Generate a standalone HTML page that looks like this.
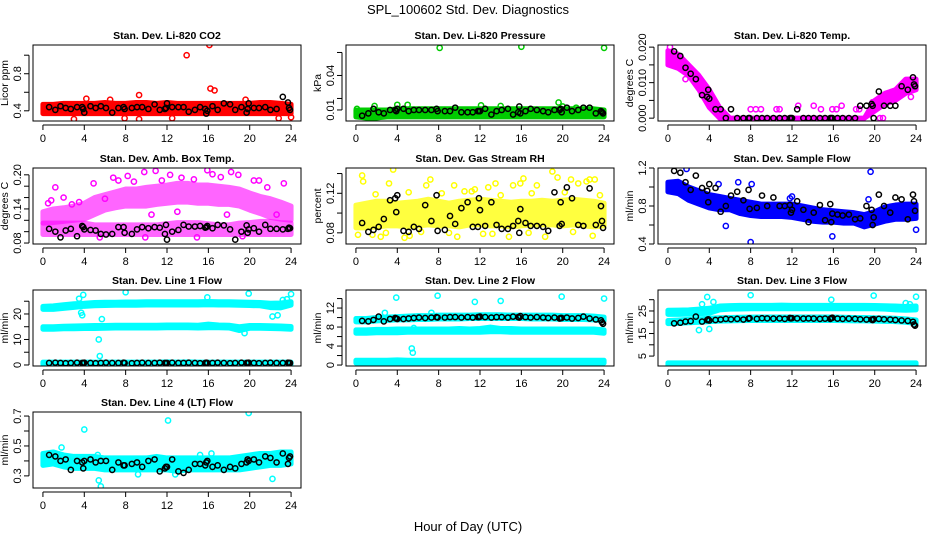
<!DOCTYPE html>
<html><head><meta charset="utf-8"><style>
html,body{margin:0;padding:0;background:#fff;}
svg{display:block;font-family:"Liberation Sans",Arial,sans-serif;}
</style></head><body>
<svg id="fig" width="936" height="540" viewBox="0 0 936 540">
<text x="468" y="14" text-anchor="middle" font-size="13">SPL_100602  Std. Dev. Diagnostics</text>
<text x="468" y="531" text-anchor="middle" font-size="13">Hour of Day (UTC)</text>
</svg>
<script>
const HOURS=[0,1,2,3,4,5,6,7,8,9,10,11,12,13,14,15,16,17,18,19,20,21,22,23,24];
const XTICKS=[0,4,8,12,16,20,24];
const hourX=[0.6,1.2,1.7,2.2,2.7,3.3,3.8,3.9,4.0,4.6,5.1,5.6,6.1,6.7,7.3,7.8,7.9,8.6,9.1,9.6,10.2,10.8,11.3,11.8,11.9,12.0,12.5,13.1,13.6,14.1,14.7,15.2,15.7,15.8,15.9,16.4,16.9,17.5,18.1,18.6,19.2,19.7,19.8,19.9,20.4,20.9,21.5,22.0,22.6,23.2,23.7,23.8,23.9];

// P1 CO2
const co2Lo=[0.37,0.37,0.37,0.37,0.37,0.37,0.37,0.37,0.37,0.37,0.37,0.37,0.37,0.37,0.37,0.37,0.37,0.37,0.37,0.37,0.37,0.37,0.37,0.37,0.37];
const co2Hi=[0.47,0.47,0.48,0.48,0.48,0.48,0.49,0.48,0.48,0.49,0.49,0.48,0.49,0.48,0.48,0.48,0.48,0.48,0.48,0.48,0.48,0.49,0.49,0.48,0.47];
const co2OutX=[13.9,16.1,16.2,16.6,9.3,4.2,3.0,7.9,9.3,12.5,22.8,24.0,6.5,19.6];
const co2OutY=[1.0,1.11,0.64,0.62,0.57,0.53,0.31,0.32,0.31,0.32,0.32,0.33,0.52,0.52];
const co2Blk=[0.44,0.41,0.45,0.43,0.42,0.44,0.44,0.42,0.38,0.45,0.43,0.45,0.43,0.38,0.43,0.44,0.42,0.43,0.44,0.44,0.42,0.47,0.41,0.42,0.43,0.48,0.44,0.44,0.44,0.39,0.41,0.44,0.42,0.37,0.40,0.45,0.41,0.48,0.47,0.41,0.44,0.38,0.42,0.48,0.43,0.43,0.44,0.41,0.42,0.55,0.49,0.43,0.41];
const co2Ticks=[0.4,0.6,0.8,1.0];const co2Labels=["0.4","","0.8",""];

// P2 Pressure
const prLo=[0.004,0.003,0.003,0.004,0.004,0.004,0.004,0.004,0.004,0.004,0.004,0.004,0.004,0.004,0.004,0.004,0.004,0.004,0.004,0.004,0.004,0.004,0.004,0.004,0.004];
const prHi=[0.010,0.010,0.010,0.010,0.011,0.011,0.011,0.011,0.011,0.011,0.011,0.011,0.011,0.011,0.011,0.011,0.011,0.011,0.011,0.011,0.011,0.011,0.011,0.011,0.010];
const prOutX=[8.1,16.0,24.0,19.6,1.8,4.0,5.0,12.1,14.0,0.1,20.0,21.3];
const prOutY=[0.064,0.065,0.064,0.0165,0.0135,0.0145,0.0145,0.014,0.0135,0.011,0.013,0.012];
const prBlk=[0.005,0.007,0.011,0.008,0.007,0.010,0.010,0.009,0.011,0.011,0.009,0.010,0.010,0.010,0.010,0.011,0.009,0.009,0.009,0.012,0.008,0.008,0.008,0.009,0.009,0.009,0.011,0.006,0.009,0.010,0.011,0.006,0.008,0.013,0.007,0.009,0.011,0.010,0.009,0.008,0.010,0.010,0.011,0.008,0.012,0.009,0.010,0.012,0.012,0.007,0.009,0.008,0.007];
const prTicks=[0.01,0.02,0.04,0.06];const prLabels=["0.01","","0.04",""];

// P3 Li-820 Temp
const tmLo=[0.015,0.014,0.012,0.008,0.003,0.0,0.0,0.0,0.0,0.0,0.0,0.0,0.0,0.0,0.0,0.0,0.0,0.0,0.0,0.0,0.002,0.004,0.005,0.007,0.008];
const tmHi=[0.019,0.018,0.015,0.012,0.008,0.003,0.0,0.0,0.0,0.0,0.0,0.0,0.0,0.0,0.0,0.0,0.0,0.0,0.0,0.0,0.005,0.007,0.008,0.011,0.011];
const tmOutX=[0.2,1.7,2.9,4.5,5.0,8.0,8.5,9.0,10.5,10.8,12.6,14.1,14.8,15.9,16.3,16.8,18.2,18.5,19.8,20.5,20.8,23.5];
const tmOutY=[0.020,0.011,0.009,0.0025,0.0025,0.0025,0.0025,0.0025,0.0025,0.0025,0.0035,0.0035,0.0025,0.0025,0.0025,0.0035,0.0025,0.0025,0.0045,0.0,0.0,0.006];
const tmBlk=[0.0188,0.0175,0.0142,0.0125,0.011,0.0065,0.006,0.008,0.0055,0.0025,0.0025,0,0.0025,0,0,0,0,0,0,0,0,0,0,0,0,0,0.0025,0,0,0,0,0,0,0,0,0,0,0,0,0.0035,0.0035,0.004,0.0035,0,0.0075,0.0035,0.0035,0.0035,0.009,0.008,0.0115,0.0095,0.009];
const tmTicks=[0,0.005,0.010,0.015,0.020];const tmLabels=["0.000","","0.010","","0.020"];

// P4 Amb Box Temp
const abLoA=[0.095,0.095,0.095,0.095,0.095,0.095,0.095,0.095,0.095,0.095,0.095,0.095,0.095,0.095,0.095,0.095,0.095,0.095,0.095,0.095,0.095,0.095,0.095,0.095,0.095];
const abHiA=[0.115,0.115,0.115,0.115,0.115,0.112,0.112,0.112,0.112,0.112,0.112,0.112,0.114,0.116,0.116,0.116,0.114,0.112,0.112,0.115,0.116,0.118,0.118,0.116,0.115];
const abLoB=[0.115,0.116,0.118,0.12,0.122,0.13,0.138,0.142,0.145,0.145,0.145,0.148,0.15,0.152,0.152,0.15,0.15,0.148,0.148,0.145,0.138,0.132,0.125,0.122,0.12];
const abHiB=[0.135,0.14,0.142,0.145,0.15,0.16,0.165,0.17,0.175,0.175,0.178,0.18,0.182,0.185,0.185,0.182,0.182,0.18,0.178,0.175,0.168,0.162,0.158,0.152,0.145];
const abOutX=[1.2,4.9,6.8,8.2,9.8,10.9,12.3,15.9,16.4,18.2,18.9,20.4,20.9,23.3,0.5,2.8,5.5,9.9,14.9,19.3,7.3,8.8,11.5,13.4,14.6,17.2,21.7,0.8,2.0,3.5,6.0,10.5,13.0,17.8,22.6];
const abOutY=[0.178,0.185,0.195,0.198,0.205,0.207,0.2,0.208,0.201,0.205,0.2,0.19,0.19,0.185,0.15,0.148,0.09,0.09,0.09,0.092,0.19,0.188,0.19,0.195,0.192,0.196,0.178,0.155,0.16,0.152,0.158,0.13,0.135,0.13,0.13];
const abBlk=[0.105,0.100,0.090,0.102,0.105,0.092,0.110,0.108,0.104,0.103,0.102,0.096,0.095,0.096,0.108,0.108,0.098,0.096,0.104,0.108,0.106,0.108,0.107,0.096,0.112,0.086,0.100,0.103,0.112,0.109,0.109,0.110,0.107,0.108,0.110,0.106,0.112,0.111,0.104,0.086,0.100,0.111,0.098,0.104,0.106,0.100,0.112,0.105,0.105,0.104,0.105,0.107,0.106];
const abTicks=[0.08,0.10,0.12,0.14,0.16,0.18,0.20];const abLabels=["0.08","","","0.14","","","0.20"];

// P5 Gas Stream RH
const rhLo=[0.085,0.085,0.086,0.087,0.087,0.086,0.087,0.088,0.087,0.087,0.086,0.088,0.088,0.087,0.087,0.086,0.087,0.088,0.088,0.088,0.087,0.088,0.087,0.086,0.087];
const rhHi=[0.108,0.110,0.112,0.112,0.110,0.111,0.112,0.114,0.112,0.110,0.112,0.113,0.114,0.113,0.112,0.111,0.112,0.112,0.113,0.112,0.113,0.114,0.113,0.112,0.110];
const rhOutX=[0.6,0.7,3.6,3.2,6.8,7.2,9.5,10.5,11.5,12.8,13.5,15.2,15.9,16.2,17.5,19.0,19.5,20.8,21.5,22.3,22.6,23.1,0.2,1.6,2.4,4.7,5.2,9.8,12.3,14.8,18.3,22.9,1.9,5.1,8.3,11.2,14.0,17.0,20.2,23.6,2.9,6.3,9.0,13.2,16.7,21.0];
const rhOutY=[0.138,0.132,0.144,0.13,0.128,0.134,0.128,0.122,0.124,0.126,0.13,0.128,0.13,0.135,0.128,0.142,0.136,0.134,0.13,0.132,0.134,0.134,0.078,0.078,0.076,0.075,0.077,0.076,0.079,0.076,0.076,0.077,0.119,0.121,0.12,0.122,0.118,0.12,0.121,0.118,0.08,0.081,0.08,0.079,0.08,0.081];
const rhBlk=[0.090,0.081,0.083,0.086,0.094,0.113,0.115,0.101,0.118,0.082,0.081,0.086,0.084,0.108,0.092,0.118,0.082,0.083,0.097,0.089,0.105,0.111,0.086,0.086,0.115,0.103,0.087,0.111,0.088,0.084,0.084,0.087,0.092,0.080,0.104,0.090,0.087,0.087,0.086,0.082,0.121,0.087,0.111,0.089,0.126,0.115,0.088,0.087,0.125,0.088,0.107,0.092,0.085];
const rhTicks=[0.08,0.10,0.12,0.14];const rhLabels=["0.08","","0.12",""];

// P6 Sample Flow
const sfLo=[0.95,0.93,0.86,0.82,0.78,0.76,0.76,0.72,0.70,0.69,0.69,0.69,0.68,0.66,0.64,0.63,0.63,0.62,0.62,0.58,0.61,0.64,0.66,0.66,0.67];
const sfHi=[1.05,1.06,1.00,0.96,0.92,0.90,0.88,0.86,0.84,0.82,0.82,0.82,0.82,0.80,0.78,0.76,0.75,0.74,0.73,0.71,0.74,0.79,0.81,0.82,0.82];
const sfOutX=[1.8,4.9,6.8,8.1,19.6,8.0,5.6,15.9,24.0,12.0,11.8,19.4];
const sfOutY=[1.19,1.03,1.05,1.03,1.16,0.42,0.59,0.48,0.55,0.90,0.88,0.87];
const sfBlk=[1.17,1.15,1.05,0.97,1.12,0.99,0.96,0.84,1.03,0.99,0.74,0.80,0.91,0.95,0.86,0.97,0.77,0.78,0.91,0.80,0.89,0.80,0.80,0.81,0.73,0.76,0.85,0.76,0.63,0.73,0.81,0.65,0.82,0.63,0.72,0.71,0.70,0.71,0.66,0.67,0.80,0.76,0.60,0.68,0.92,0.80,0.73,0.89,0.87,0.66,0.92,0.85,0.75];
const sfTicks=[0.4,0.6,0.8,1.0,1.2];const sfLabels=["0.4","","0.8","","1.2"];

// P7 Line 1 Flow
const l1LoA=[21.8,21.8,22.2,22.6,23.0,23.2,23.3,23.4,23.4,23.4,23.5,23.5,23.5,23.5,23.5,23.5,23.6,23.5,23.5,23.4,23.3,23.2,22.5,22.4,23.5];
const l1HiA=[23.0,23.2,23.6,24.0,24.2,24.5,24.6,24.6,24.7,24.7,24.8,24.8,24.8,24.8,24.8,24.8,24.9,24.8,24.8,24.7,24.6,24.5,24.2,24.3,24.8];
const l1LoB=[14.0,14.0,14.2,14.2,14.3,14.3,14.4,14.5,14.5,14.5,14.5,14.5,14.6,14.6,14.6,14.5,14.6,14.6,14.5,13.5,14.4,14.4,14.3,14.2,14.0];
const l1HiB=[15.0,15.0,15.2,15.3,15.4,15.5,15.5,15.6,15.6,15.6,15.6,15.6,15.7,15.7,15.7,15.6,16.0,15.7,15.6,15.0,15.5,15.5,15.4,15.3,15.1];
const l1LoC=[0.3,0.3,0.3,0.3,0.3,0.3,0.3,0.3,0.3,0.3,0.3,0.3,0.3,0.3,0.3,0.3,0.3,0.3,0.3,0.3,0.3,0.3,0.3,0.3,0.3];
const l1HiC=[1.1,1.1,1.1,1.1,1.1,1.1,1.1,1.1,1.1,1.1,1.1,1.1,1.2,1.1,1.2,1.1,1.1,1.1,1.1,1.1,1.1,1.1,1.1,1.1,1.1];
const l1OutX=[3.5,3.9,3.7,3.8,5.4,5.5,5.7,8.0,15.9,19.9,22.2,22.7,23.2,23.6,24.0,19.5];
const l1OutY=[26.0,27.5,20.5,19.5,10.0,3.5,18.0,28.5,26.5,28.0,19.0,19.5,25.5,25.8,27.8,12.5];
const l1Blk=[0.8,0.9,0.8,0.7,0.8,0.9,0.8,0.8,0.9,0.8,0.7,0.8,0.9,0.8,0.8,0.9,0.8,0.7,0.8,0.9,0.8,0.8,0.9,0.8,0.7,0.8,0.9,0.8,0.8,0.9,0.8,0.7,0.8,0.9,0.8,0.8,0.9,0.8,0.7,0.8,0.9,0.8,0.8,0.9,0.8,0.7,0.8,0.9,0.8,0.8,0.9,0.8,0.8];
const l1Ticks=[0,5,10,15,20,25];const l1Labels=["0","","10","","20",""];

// P8 Line 2 Flow
const l2LoA=[9.1,9.1,9.3,9.4,9.5,9.5,9.6,9.6,9.7,9.7,9.7,9.8,9.8,9.8,9.8,9.8,9.8,9.7,9.7,9.7,9.6,9.6,9.6,9.5,9.3];
const l2HiA=[9.8,9.8,10.0,10.1,10.2,10.3,10.4,10.4,10.5,10.5,10.5,10.5,10.6,10.6,10.6,10.5,10.5,10.5,10.5,10.5,10.4,10.4,10.4,10.3,10.1];
const l2LoB=[6.7,6.7,6.8,6.8,6.8,6.9,6.9,6.9,6.9,6.9,6.9,6.9,6.9,7.0,7.0,6.9,6.9,6.9,6.9,6.9,6.9,6.9,6.9,6.9,6.7];
const l2HiB=[7.4,7.4,7.5,7.5,7.6,7.6,7.6,7.6,7.6,7.6,7.7,7.6,7.7,8.0,7.7,7.7,7.6,7.6,7.6,7.6,7.6,7.6,7.6,7.6,7.4];
const l2LoC=[0.4,0.4,0.4,0.4,0.4,0.4,0.4,0.4,0.4,0.4,0.4,0.4,0.4,0.4,0.4,0.4,0.4,0.4,0.4,0.4,0.4,0.4,0.4,0.4,0.4];
const l2HiC=[1.0,1.0,1.0,1.0,1.1,1.0,1.0,1.0,1.0,1.0,1.0,1.0,1.0,1.0,1.0,1.0,1.0,1.0,1.0,1.0,1.0,1.0,1.0,1.0,1.0];
const l2OutX=[3.9,5.4,5.5,5.6,7.9,11.5,14.0,19.9,24.0,2.8,7.3];
const l2OutY=[14.2,3.5,2.6,7.8,14.6,13.3,13.5,14.4,14.0,11.0,11.0];
const l2Blk=[9.3,9.2,9.5,10.2,9.2,9.7,9.9,9.8,9.7,9.7,9.8,9.9,10.0,9.9,10.0,10.1,10.0,10.0,10.1,10.1,10.0,10.1,10.0,10.1,10.1,10.2,10.1,10.0,10.1,10.1,10.0,10.2,10.1,10.0,10.3,10.1,10.0,10.1,10.0,9.9,10.0,9.8,9.9,9.9,10.0,9.8,9.9,10.2,9.8,9.6,9.4,9.0,8.7];
const l2Ticks=[0,2,4,6,8,10,12,14];const l2Labels=["0","","4","","8","","12",""];

// P9 Line 3 Flow
const l3LoA=[23.5,23.5,23.6,23.8,24.0,25.5,25.8,25.9,26.0,26.0,26.0,26.0,26.0,26.0,26.0,26.0,26.0,26.0,26.0,26.0,26.0,25.8,25.5,25.3,25.5];
const l3HiA=[25.3,25.4,25.5,25.8,26.2,27.2,27.4,27.5,27.5,27.5,27.5,27.6,27.5,27.5,27.5,27.5,27.5,27.5,27.5,27.5,27.4,27.3,27.2,27.0,27.2];
const l3LoB=[19.4,19.5,19.8,20.0,20.3,20.5,20.6,20.7,20.8,20.8,20.8,20.8,20.8,20.8,20.8,20.8,20.8,20.7,20.6,20.6,20.5,20.4,20.3,20.0,19.5];
const l3HiB=[20.8,21.0,21.3,21.5,21.8,22.0,22.1,22.2,22.3,22.3,22.3,22.3,22.3,22.3,22.3,22.3,22.3,22.2,22.1,22.1,22.0,21.9,21.8,21.5,21.0];
const l3LoC=[1.0,1.0,1.0,1.0,1.0,1.0,1.0,1.0,1.0,1.0,1.0,1.0,1.0,1.0,1.0,1.0,1.0,1.0,1.0,1.0,1.0,1.0,1.0,1.0,1.0];
const l3HiC=[2.0,2.0,2.0,2.0,2.0,2.0,2.0,2.0,2.0,2.0,2.0,2.0,2.0,2.0,2.0,2.0,2.0,2.0,2.0,2.0,2.0,2.0,2.0,2.0,2.0];
const l3OutX=[3.8,4.0,3.3,3.0,8.0,15.8,19.9,24.0,23.4,23.0,4.4];
const l3OutY=[31.2,17.0,28.0,16.5,32.0,30.0,31.8,31.3,28.0,28.5,29.0];
const l3Blk=[19.5,19.8,20.3,20.5,22.5,20.3,21.0,21.3,20.8,21.0,21.2,21.5,21.3,21.5,21.2,21.6,21.8,21.5,21.8,21.7,21.6,21.7,21.5,21.9,21.7,21.8,21.7,21.6,21.7,21.6,21.5,21.6,21.5,21.8,22.0,21.6,21.5,21.6,21.5,21.3,21.2,21.2,21.0,21.4,21.5,21.3,21.2,21.0,20.8,20.6,20.2,19.0,18.5];
const l3Ticks=[5,10,15,20,25,30];const l3Labels=["5","","15","","25",""];

// P10 Line 4 (LT) Flow
const l4Lo=[0.37,0.38,0.36,0.35,0.35,0.35,0.34,0.34,0.34,0.34,0.34,0.34,0.34,0.33,0.34,0.34,0.34,0.34,0.34,0.34,0.35,0.36,0.37,0.37,0.38];
const l4Hi=[0.45,0.46,0.44,0.43,0.43,0.43,0.42,0.42,0.42,0.42,0.42,0.43,0.42,0.42,0.42,0.42,0.42,0.42,0.42,0.43,0.44,0.45,0.45,0.46,0.46];
const l4OutX=[4.0,12.1,19.9,5.4,5.6,1.8,22.2,16.3,15.2,5.3,9.2,12.8];
const l4OutY=[0.61,0.67,0.72,0.27,0.23,0.49,0.28,0.45,0.44,0.44,0.31,0.31];
const l4Blk=[0.44,0.43,0.40,0.41,0.34,0.40,0.39,0.35,0.40,0.41,0.39,0.40,0.40,0.34,0.39,0.37,0.37,0.38,0.39,0.36,0.40,0.41,0.33,0.35,0.36,0.36,0.41,0.33,0.32,0.34,0.38,0.38,0.37,0.39,0.40,0.36,0.37,0.34,0.36,0.35,0.38,0.39,0.41,0.40,0.41,0.39,0.43,0.42,0.39,0.45,0.38,0.42,0.43];
const l4Ticks=[0.3,0.4,0.5,0.6,0.7];const l4Labels=["0.3","","0.5","","0.7"];

const NS="http://www.w3.org/2000/svg";
const svg=document.getElementById('fig');
const COLX=[33,346,658], ROWY=[45,168,290,412], PW=268, PH=76;
function mk(tag,attrs,parent){const e=document.createElementNS(NS,tag);for(const k in attrs)e.setAttribute(k,attrs[k]);(parent||svg).appendChild(e);return e;}

function panel(cfg){
  const L=COLX[cfg.col],T=ROWY[cfg.row],R=L+PW,B=T+PH;
  const g=mk('g',{});
  
  
  const sx=v=>L+(v+0.96)/25.92*PW;
  const sy=v=>B-(v-cfg.ymin)/(cfg.ymax-cfg.ymin)*PH;
  const clip='clip-'+cfg.name;
  const cp=mk('clipPath',{id:clip},g);mk('rect',{x:L,y:T,width:PW,height:PH},cp);
  const pg=mk('g',{'clip-path':'url(#'+clip+')'},g);
  const op=cfg.opacity||1;
  (cfg.bands||[]).forEach(([lo,hi],bi)=>{
    let pts=HOURS.map((h,i)=>sx(h)+','+sy(hi[i]));
    pts=pts.concat(HOURS.slice().reverse().map((h,j)=>{const i=HOURS.length-1-j;return sx(h)+','+sy(lo[i]);}));
    const p=mk('polygon',{points:pts.join(' '),fill:cfg.color,stroke:cfg.color,'stroke-width':5,'stroke-linejoin':'round',opacity:op},pg);
    
    
  });
  (cfg.outX||[]).forEach((x,i)=>{
    const c=mk('circle',{cx:sx(x),cy:sy(cfg.outY[i]),r:2.6,fill:'none',stroke:cfg.color,'stroke-width':1.5},pg);
    
    
  });
  const n=Math.min(hourX.length,cfg.blk.length);
  for(let i=0;i<n;i++){
    const c=mk('circle',{cx:sx(hourX[i]),cy:sy(cfg.blk[i]),r:2.6,fill:'none',stroke:'#000','stroke-width':1.5},pg);
    
    
  }
  mk('rect',{x:L,y:T,width:PW,height:PH,fill:'none',stroke:'#000','stroke-width':1},g);
  mk('line',{x1:sx(0),x2:sx(24),y1:B+4,y2:B+4,stroke:'#000'},g);
  XTICKS.forEach(t=>{mk('line',{x1:sx(t),x2:sx(t),y1:B+4,y2:B+9,stroke:'#000'},g);
    const tx=mk('text',{x:sx(t),y:B+21,'text-anchor':'middle','font-size':11},g);tx.textContent=t;});
  const tk=cfg.ticks;
  mk('line',{x1:L-4,x2:L-4,y1:sy(tk[0]),y2:sy(tk[tk.length-1]),stroke:'#000'},g);
  tk.forEach((t,i)=>{mk('line',{x1:L-9,x2:L-4,y1:sy(t),y2:sy(t),stroke:'#000'},g);
    if(cfg.labels[i]){const tx=mk('text',{x:L-12,y:sy(t),'text-anchor':'middle','font-size':11,transform:'rotate(-90 '+(L-12)+' '+sy(t)+')'},g);tx.textContent=cfg.labels[i];}});
  const yt=mk('text',{x:L-25,y:(T+B)/2,'text-anchor':'middle','font-size':10.5,transform:'rotate(-90 '+(L-25)+' '+((T+B)/2)+')'},g);
  yt.textContent=cfg.ylab;
  
  
  const tt=mk('text',{x:(L+R)/2,y:T-6,'text-anchor':'middle','font-size':10.5,'font-weight':'bold'},g);
  tt.textContent=cfg.title;
  
  
}

panel({name:'co2-panel',col:0,row:0,title:'Stan. Dev. Li-820 CO2',ylab:'Licor ppm',ymin:0.29,ymax:1.11,ticks:co2Ticks,labels:co2Labels,color:'#ff0000',bands:[[co2Lo,co2Hi]],outX:co2OutX,outY:co2OutY,blk:co2Blk});
panel({name:'pressure-panel',col:1,row:0,title:'Stan. Dev. Li-820 Pressure',ylab:'kPa',ymin:0.0004,ymax:0.0665,ticks:prTicks,labels:prLabels,color:'#00cc00',bands:[[prLo,prHi]],outX:prOutX,outY:prOutY,blk:prBlk});
panel({name:'temp-panel',col:2,row:0,title:'Stan. Dev. Li-820 Temp.',ylab:'degrees C',ymin:-0.0008,ymax:0.0206,ticks:tmTicks,labels:tmLabels,color:'#ff00ff',bands:[[tmLo,tmHi]],outX:tmOutX,outY:tmOutY,blk:tmBlk});
panel({name:'ambbox-panel',col:0,row:1,title:'Stan. Dev. Amb. Box Temp.',ylab:'degrees C',ymin:0.0783,ymax:0.212,ticks:abTicks,labels:abLabels,color:'#ff00ff',opacity:0.6,bands:[[abLoA,abHiA],[abLoB,abHiB]],outX:abOutX,outY:abOutY,blk:abBlk});
panel({name:'rh-panel',col:1,row:1,title:'Stan. Dev. Gas Stream RH',ylab:'percent',ymin:0.0687,ymax:0.1456,ticks:rhTicks,labels:rhLabels,color:'#ffff00',opacity:0.75,bands:[[rhLo,rhHi]],outX:rhOutX,outY:rhOutY,blk:rhBlk});
panel({name:'sampleflow-panel',col:2,row:1,title:'Stan. Dev. Sample Flow',ylab:'ml/min',ymin:0.4,ymax:1.2,ticks:sfTicks,labels:sfLabels,color:'#0000ff',bands:[[sfLo,sfHi]],outX:sfOutX,outY:sfOutY,blk:sfBlk});
panel({name:'line1-panel',col:0,row:2,title:'Stan. Dev. Line 1 Flow',ylab:'ml/min',ymin:-0.4,ymax:29.4,ticks:l1Ticks,labels:l1Labels,color:'#00ffff',bands:[[l1LoA,l1HiA],[l1LoB,l1HiB],[l1LoC,l1HiC]],outX:l1OutX,outY:l1OutY,blk:l1Blk});
panel({name:'line2-panel',col:1,row:2,title:'Stan. Dev. Line 2 Flow',ylab:'ml/min',ymin:-0.2,ymax:15.8,ticks:l2Ticks,labels:l2Labels,color:'#00ffff',bands:[[l2LoA,l2HiA],[l2LoB,l2HiB],[l2LoC,l2HiC]],outX:l2OutX,outY:l2OutY,blk:l2Blk});
panel({name:'line3-panel',col:2,row:2,title:'Stan. Dev. Line 3 Flow',ylab:'ml/min',ymin:0.6,ymax:34.3,ticks:l3Ticks,labels:l3Labels,color:'#00ffff',bands:[[l3LoA,l3HiA],[l3LoB,l3HiB],[l3LoC,l3HiC]],outX:l3OutX,outY:l3OutY,blk:l3Blk});
panel({name:'line4-panel',col:0,row:3,title:'Stan. Dev. Line 4 (LT) Flow',ylab:'ml/min',ymin:0.219,ymax:0.727,ticks:l4Ticks,labels:l4Labels,color:'#00ffff',bands:[[l4Lo,l4Hi]],outX:l4OutX,outY:l4OutY,blk:l4Blk});
</script>
</body></html>
